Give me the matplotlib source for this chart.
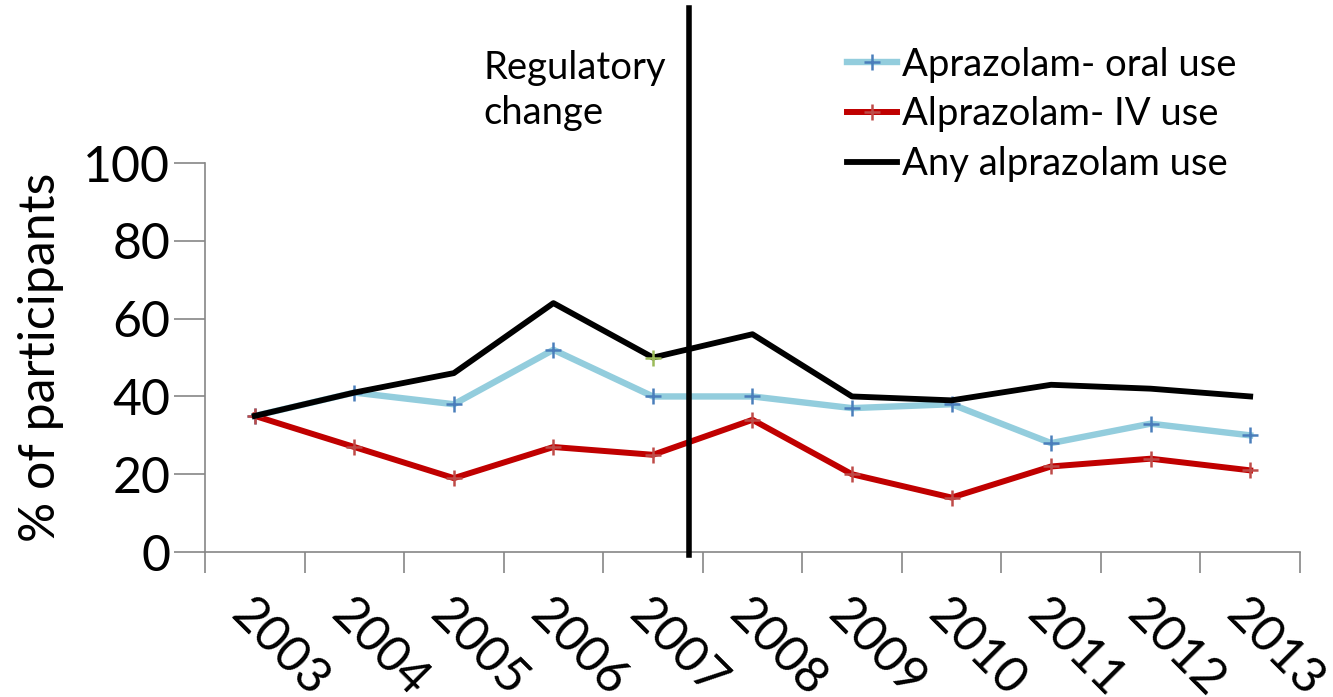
import matplotlib
matplotlib.use("Agg")
import matplotlib.pyplot as plt

plt.rcParams["font.family"] = ["Lato", "DejaVu Sans"]

years = ["2003", "2004", "2005", "2006", "2007", "2008",
         "2009", "2010", "2011", "2012", "2013"]
oral_use = [35, 41, 38, 52, 40, 40, 37, 38, 28, 33, 30]
iv_use = [35, 27, 19, 27, 25, 34, 20, 14, 22, 24, 21]
any_use = [35, 41, 46, 64, 50, 56, 40, 39, 43, 42, 40]

# regulatory change sits between 2007 and 2008
reg_x = 4.36

fig = plt.figure(figsize=(13.33, 6.97), dpi=100)
ax = fig.add_axes([0.1538, 0.208, 0.8214, 0.558])

x = list(range(len(years)))
ax.plot(x, oral_use, color="#93CDDD", lw=4.6, marker="+", ms=11,
        mec="#4A7EBB", mew=1.8, label="Aprazolam- oral use", zorder=3)
ax.plot(x, iv_use, color="#C00000", lw=4.3, marker="+", ms=11,
        mec="#BE4B48", mew=1.8, label="Alprazolam- IV use", zorder=3)
ax.plot(x, any_use, color="black", lw=4.2, label="Any alprazolam use", zorder=4)
# stray green marker on the black line in the original
ax.plot([x[4]], [any_use[4]], ls="none", marker="+", ms=11,
        mec="#9BBB59", mew=1.8, zorder=5)

ax.plot([reg_x, reg_x], [-0.8, 140], color="black", lw=4,
        clip_on=False, zorder=6)
ax.text(2.3, 129, "Regulatory\nchange", fontsize=27.5, ha="left", va="top",
        linespacing=1.3)

ax.set_xlim(-0.5, len(years) - 0.5)
ax.set_ylim(0, 100)
ax.set_yticks(range(0, 101, 20))
ax.tick_params(axis="y", labelsize=36, length=22, width=1.2,
               color="#868686", pad=3)
ax.set_xticks(x)
ax.set_xticklabels(years, rotation=-45, ha="left", va="top",
                   rotation_mode="anchor", fontsize=36)
ax.set_xticks([i - 0.5 for i in range(len(years) + 1)], minor=True)
ax.tick_params(axis="x", which="major", length=0, pad=28)
ax.tick_params(axis="x", which="minor", length=15, width=1.2,
               color="#868686")
ax.set_ylabel("% of participants", fontsize=36, labelpad=14)

for side in ["top", "right"]:
    ax.spines[side].set_visible(False)
for side in ["left", "bottom"]:
    ax.spines[side].set_color("#868686")
    ax.spines[side].set_linewidth(1.2)

leg = ax.legend(loc="upper left", bbox_to_anchor=(0.624, 0.955),
                bbox_transform=fig.transFigure, frameon=False, fontsize=27.5,
                handlelength=1.3, handletextpad=0.15, labelspacing=0.36,
                borderaxespad=0)

fig.savefig("out.png", dpi=100)
